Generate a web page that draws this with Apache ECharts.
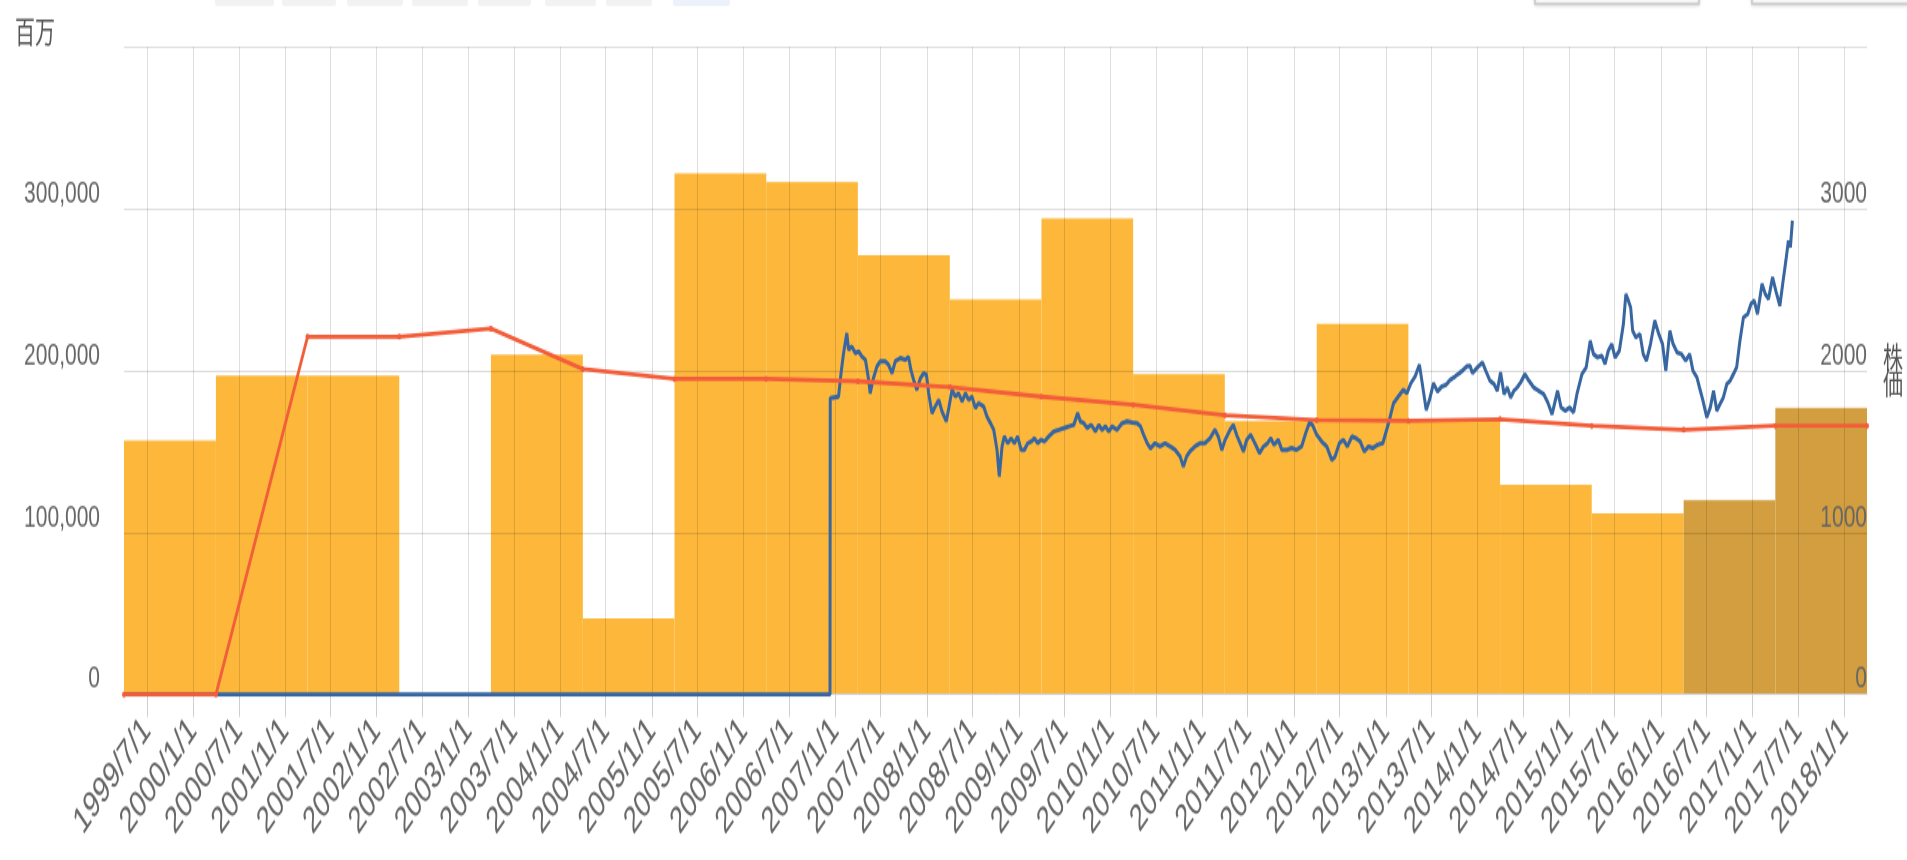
<!DOCTYPE html>
<html><head><meta charset="utf-8">
<script src="https://cdn.jsdelivr.net/npm/echarts@6/dist/echarts.min.js"></script>
<style>
html,body{margin:0;padding:0;background:#fff;overflow:hidden;width:1907px;height:860px}
#c{width:1907px;height:573px;transform:scaleY(1.50087);transform-origin:0 0}
</style>
</head><body><div id="c"></div>
<script>
// Fiscal years (April to March)
const fiscalYearStarts = ['1999-04-01','2000-04-01','2001-04-01','2002-04-01','2003-04-01','2004-04-01','2005-04-01','2006-04-01','2007-04-01','2008-04-01','2009-04-01','2010-04-01','2011-04-01','2012-04-01','2013-04-01','2014-04-01','2015-04-01','2016-04-01','2017-04-01'];
const fiscalYearEnds = ['2000-04-01','2001-04-01','2002-04-01','2003-04-01','2004-04-01','2005-04-01','2006-04-01','2007-04-01','2008-04-01','2009-04-01','2010-04-01','2011-04-01','2012-04-01','2013-04-01','2014-04-01','2015-04-01','2016-04-01','2017-04-01','2018-04-01'];
// Bars (million yen)
const salesValues = [157000,197000,197000,null,210000,47000,322000,316500,271500,244000,294000,198000,169000,229000,168500,129500,112000,120000,177000];
const forecastFlags = [0,0,0,0,0,0,0,0,0,0,0,0,0,0,0,0,0,1,1];
// Red line (million yen)
const lineDates = ['1999-04-01','2000-04-01','2001-04-01','2002-04-01','2003-04-01','2004-04-01','2005-04-01','2006-04-01','2007-04-01','2008-04-01','2009-04-01','2010-04-01','2011-04-01','2012-04-01','2013-04-01','2014-04-01','2015-04-01','2016-04-01','2017-04-01','2018-04-01'];
const lineValues = [0,0,221000,221000,226000,201000,195000,195000,193500,190000,184000,179000,172500,169500,169000,170000,166000,163500,166000,166000];
// Stock price (right axis)
const priceDates = ['1999-04-01','2006-12-11','2006-12-12','2007-01-14','2007-01-24','2007-02-03','2007-02-16','2007-02-23','2007-03-08','2007-03-22','2007-04-04','2007-04-17','2007-05-01','2007-05-14','2007-05-20','2007-05-31','2007-06-16','2007-06-29','2007-07-19','2007-08-01','2007-08-15','2007-08-28','2007-09-17','2007-10-07','2007-10-20','2007-10-29','2007-11-09','2007-11-22','2007-12-06','2007-12-19','2007-12-30',
'2008-01-08','2008-01-21','2008-02-03','2008-02-17','2008-03-01','2008-03-18','2008-03-28','2008-04-10','2008-04-23','2008-05-06','2008-05-20','2008-06-02','2008-06-15','2008-06-28','2008-07-12','2008-07-25','2008-08-14','2008-08-27','2008-09-10','2008-09-23','2008-10-06','2008-10-15','2008-10-26','2008-11-04','2008-11-18','2008-12-01','2008-12-14','2008-12-27',
'2009-01-10','2009-01-23','2009-02-05','2009-02-19','2009-03-04','2009-03-17','2009-03-30','2009-04-13','2009-04-30','2009-05-20','2009-06-09','2009-06-29','2009-07-19','2009-08-08','2009-08-23','2009-09-03','2009-09-16','2009-09-30','2009-10-16','2009-11-02','2009-11-15','2009-11-28','2009-12-12','2009-12-25',
'2010-01-07','2010-01-27','2010-02-16','2010-03-08','2010-03-28','2010-04-17','2010-04-30','2010-05-13','2010-05-27','2010-06-09','2010-06-27','2010-07-17','2010-08-06','2010-08-26','2010-09-15','2010-10-05','2010-10-18','2010-10-31','2010-11-13','2010-12-03','2010-12-23',
'2011-01-12','2011-02-01','2011-02-21','2011-03-06','2011-03-20','2011-04-02','2011-04-22','2011-05-05','2011-05-18','2011-06-01','2011-06-14','2011-06-27','2011-07-13','2011-07-30','2011-08-17','2011-09-02','2011-09-18','2011-10-01','2011-10-14','2011-10-31','2011-11-14','2011-12-04','2011-12-23',
'2012-01-12','2012-02-01','2012-02-17','2012-03-02','2012-03-15','2012-04-01','2012-04-21','2012-05-11','2012-05-31','2012-06-13','2012-06-30','2012-07-16','2012-08-01','2012-08-19','2012-09-05','2012-09-21','2012-10-07','2012-10-24','2012-11-10','2012-11-29','2012-12-20',
'2013-01-12','2013-02-01','2013-02-20','2013-03-12','2013-03-26','2013-04-11','2013-04-28','2013-05-15','2013-05-28','2013-06-11','2013-06-24','2013-07-10','2013-07-26','2013-08-12','2013-08-29','2013-09-14','2013-10-04','2013-10-21','2013-11-06','2013-11-20','2013-12-03','2013-12-12',
'2014-01-01','2014-01-21','2014-02-03','2014-02-20','2014-03-08','2014-03-21','2014-04-03','2014-04-17','2014-04-30','2014-05-13','2014-05-26','2014-06-08','2014-06-22','2014-07-09','2014-07-25','2014-08-13','2014-09-02','2014-09-22','2014-10-08','2014-10-25','2014-11-16','2014-11-30','2014-12-17',
'2015-01-03','2015-01-19','2015-02-01','2015-02-21','2015-03-10','2015-03-26','2015-04-08','2015-04-24','2015-05-11','2015-05-24','2015-06-06','2015-06-20','2015-07-03','2015-07-20','2015-08-05','2015-08-15','2015-08-25','2015-09-03','2015-09-11','2015-09-24','2015-10-10','2015-10-23','2015-11-05','2015-11-21','2015-12-08','2015-12-24',
'2016-01-08','2016-01-21','2016-02-06','2016-02-19','2016-03-06','2016-03-23','2016-04-09','2016-04-25','2016-05-08','2016-05-24','2016-06-03','2016-06-17','2016-07-02','2016-07-16','2016-07-29','2016-08-11','2016-08-24','2016-09-06','2016-09-20','2016-10-03','2016-10-16','2016-10-29','2016-11-11','2016-11-25','2016-12-12','2016-12-25',
'2017-01-07','2017-01-20','2017-02-07','2017-02-20','2017-03-05','2017-03-21','2017-04-03','2017-04-19','2017-05-02','2017-05-13','2017-05-23','2017-05-31','2017-06-08'];
const priceValues = [0,0,1830,1841,1985,2109,2233,2130,2150,2109,2119,2088,2068,1944,1861,1944,2027,2058,2058,2037,1985,2058,2078,2068,2084,2006,1944,1882,1954,1985,1975,
1861,1738,1779,1820,1748,1687,1769,1882,1841,1861,1810,1861,1820,1841,1769,1800,1779,1717,1676,1635,1511,1347,1532,1594,1552,1583,1552,1594,
1511,1511,1552,1563,1583,1552,1573,1563,1594,1625,1635,1646,1656,1666,1738,1687,1676,1646,1666,1625,1666,1635,1656,1625,
1656,1635,1676,1687,1681,1676,1656,1604,1552,1520,1552,1532,1552,1532,1511,1470,1408,1470,1501,1532,1552,
1552,1583,1635,1594,1511,1573,1635,1666,1604,1552,1501,1573,1604,1552,1491,1532,1552,1583,1542,1573,1511,1511,1522,
1511,1532,1614,1676,1666,1604,1563,1532,1449,1470,1552,1573,1532,1594,1583,1563,1501,1532,1522,1542,1552,
1676,1800,1841,1882,1861,1923,1965,2037,1903,1758,1820,1923,1872,1903,1913,1944,1965,1985,2006,2027,2030,1985,
2021,2051,2000,1938,1918,1876,1990,1856,1897,1835,1876,1897,1928,1979,1938,1897,1876,1856,1804,1732,1876,1773,1753,
1773,1743,1856,1979,2021,2185,2103,2082,2093,2041,2124,2165,2082,2124,2288,2474,2433,2391,2247,2206,2227,2103,2062,2165,2309,2227,
2165,2000,2247,2165,2113,2103,2062,2103,2000,1959,1897,1815,1712,1773,1876,1753,1794,1835,1918,1938,1979,2021,2185,2329,2350,2412,
2433,2350,2536,2474,2443,2577,2494,2402,2556,2680,2804,2763,2927];
// X tick labels
const xTickLabels = ['1999/7/1','2000/1/1','2000/7/1','2001/1/1','2001/7/1','2002/1/1','2002/7/1','2003/1/1','2003/7/1','2004/1/1','2004/7/1','2005/1/1','2005/7/1','2006/1/1','2006/7/1','2007/1/1','2007/7/1','2008/1/1','2008/7/1','2009/1/1','2009/7/1','2010/1/1','2010/7/1','2011/1/1','2011/7/1','2012/1/1','2012/7/1','2013/1/1','2013/7/1','2014/1/1','2014/7/1','2015/1/1','2015/7/1','2016/1/1','2016/7/1','2017/1/1','2017/7/1','2018/1/1'];

const toTs = s => { const p = s.split(/[\/-]/).map(Number); return new Date(p[0], p[1]-1, p[2]).getTime(); };
const tickValues = xTickLabels.map(toTs);
const fmtDate = v => { const i = tickValues.indexOf(v); if (i >= 0) return xTickLabels[i]; const d = new Date(v); return d.getFullYear() + '/' + (d.getMonth()+1) + '/' + d.getDate(); };

const barData = fiscalYearStarts.map((s, i) => [toTs(s), toTs(fiscalYearEnds[i]), salesValues[i], forecastFlags[i]]);
const redData = lineDates.map((d, i) => [toTs(d), lineValues[i]]);
const blueData = priceDates.map((d, i) => [toTs(d), priceValues[i]]);

const FONT = "'Liberation Sans', Arial, sans-serif";
const CJK = "'Noto Sans CJK JP', sans-serif";
const gridColor = 'rgba(0,0,0,0.13)';

const chart = echarts.init(document.getElementById('c'), null, {renderer: 'canvas'});
const topButtons = [[215,59],[282,54],[347,56],[412,56],[478,53],[545,51],[606,46],[673,57]];
chart.setOption({
  animation: false,
  backgroundColor: '#fff',
  grid: {left: 124, right: 40, top: 31.3, bottom: 110.3},
  graphic: topButtons.map((b, i) => ({
    type: 'rect', shape: {x: b[0], y: -20, width: b[1], height: 24, r: 2},
    style: {fill: i === 7 ? '#edf1f9' : '#f2f2f2'}, silent: true
  })).concat([
    {type: 'rect', shape: {x: 1535, y: -30, width: 164, height: 32.5}, style: {fill: '#fff', stroke: '#c9c9c9', lineWidth: 1.5, shadowBlur: 3, shadowColor: 'rgba(0,0,0,0.15)'}, silent: true},
    {type: 'rect', shape: {x: 1752, y: -30, width: 170, height: 32.5}, style: {fill: '#fff', stroke: '#c9c9c9', lineWidth: 1.5, shadowBlur: 3, shadowColor: 'rgba(0,0,0,0.15)'}, silent: true}
  ]),
  xAxis: {
    type: 'value',
    min: toTs(fiscalYearStarts[0]),
    max: toTs(fiscalYearEnds[fiscalYearEnds.length - 1]),
    z: 1.5,
    axisLine: {show: true, lineStyle: {color: '#cfcfcf'}},
    axisTick: {show: true, customValues: tickValues, length: 15, lineStyle: {color: '#cfcfcf'}},
    axisLabel: {customValues: tickValues, rotate: 45, margin: 20, formatter: v => fmtDate(v), fontFamily: FONT, fontSize: 25, color: '#666'},
    splitLine: {show: true, lineStyle: {color: gridColor, width: 1}}
  },
  yAxis: [{
    type: 'value', min: 0, max: 400000, interval: 100000, position: 'left', z: 1.5,
    name: '百万', nameLocation: 'end', nameGap: 0,
    nameTextStyle: {fontFamily: CJK, fontSize: 20, color: '#555', align: 'right', verticalAlign: 'bottom', padding: [0, 69, 0, 0]},
    axisLine: {show: false}, axisTick: {show: false},
    axisLabel: {showMaxLabel: false, margin: 24, fontFamily: FONT, fontSize: 21, color: '#666', verticalAlign: 'bottom', lineHeight: 20,
      formatter: v => v.toLocaleString('en-US')},
    splitLine: {show: true, lineStyle: {color: gridColor, width: 1}}
  }, {
    type: 'value', min: 0, max: 4000, interval: 1000, position: 'right', z: 1.5,
    name: '株\n価', nameLocation: 'middle', nameRotate: 0, nameGap: 16,
    nameTextStyle: {fontFamily: CJK, fontSize: 20, lineHeight: 17, color: '#555', align: 'left', verticalAlign: 'middle', padding: [0, 0, 17, 0]},
    axisLine: {show: false}, axisTick: {show: false},
    axisLabel: {inside: true, showMaxLabel: false, margin: 0, fontFamily: FONT, fontSize: 21, color: '#666', verticalAlign: 'bottom', lineHeight: 20,
      formatter: v => String(v)},
    splitLine: {show: false}
  }],
  series: [{
    type: 'custom', name: 'sales', z: 1,
    dimensions: ['start', 'end', 'value', 'forecast'],
    encode: {x: [0, 1], y: 2},
    data: barData,
    renderItem: function (params, api) {
      const v = api.value(2);
      if (v == null || isNaN(v)) return null;
      const p0 = api.coord([api.value(0), v]);
      const p1 = api.coord([api.value(1), 0]);
      return {type: 'rect', shape: {x: p0[0], y: p0[1], width: p1[0] - p0[0], height: p1[1] - p0[1]},
        style: {fill: api.value(3) ? '#D29E3F' : '#FDB83C'}};
    }
  }, {
    type: 'line', name: 'price', yAxisIndex: 1, z: 3, data: blueData,
    showSymbol: false, symbol: 'none',
    lineStyle: {color: '#3766A1', width: 3}, itemStyle: {color: '#3766A1'}
  }, {
    type: 'line', name: 'profit', yAxisIndex: 0, z: 4, data: redData,
    symbol: 'circle', symbolSize: 4,
    lineStyle: {color: '#F25E3A', width: 2.8}, itemStyle: {color: '#F25E3A'}
  }]
});
</script>
</body></html>
